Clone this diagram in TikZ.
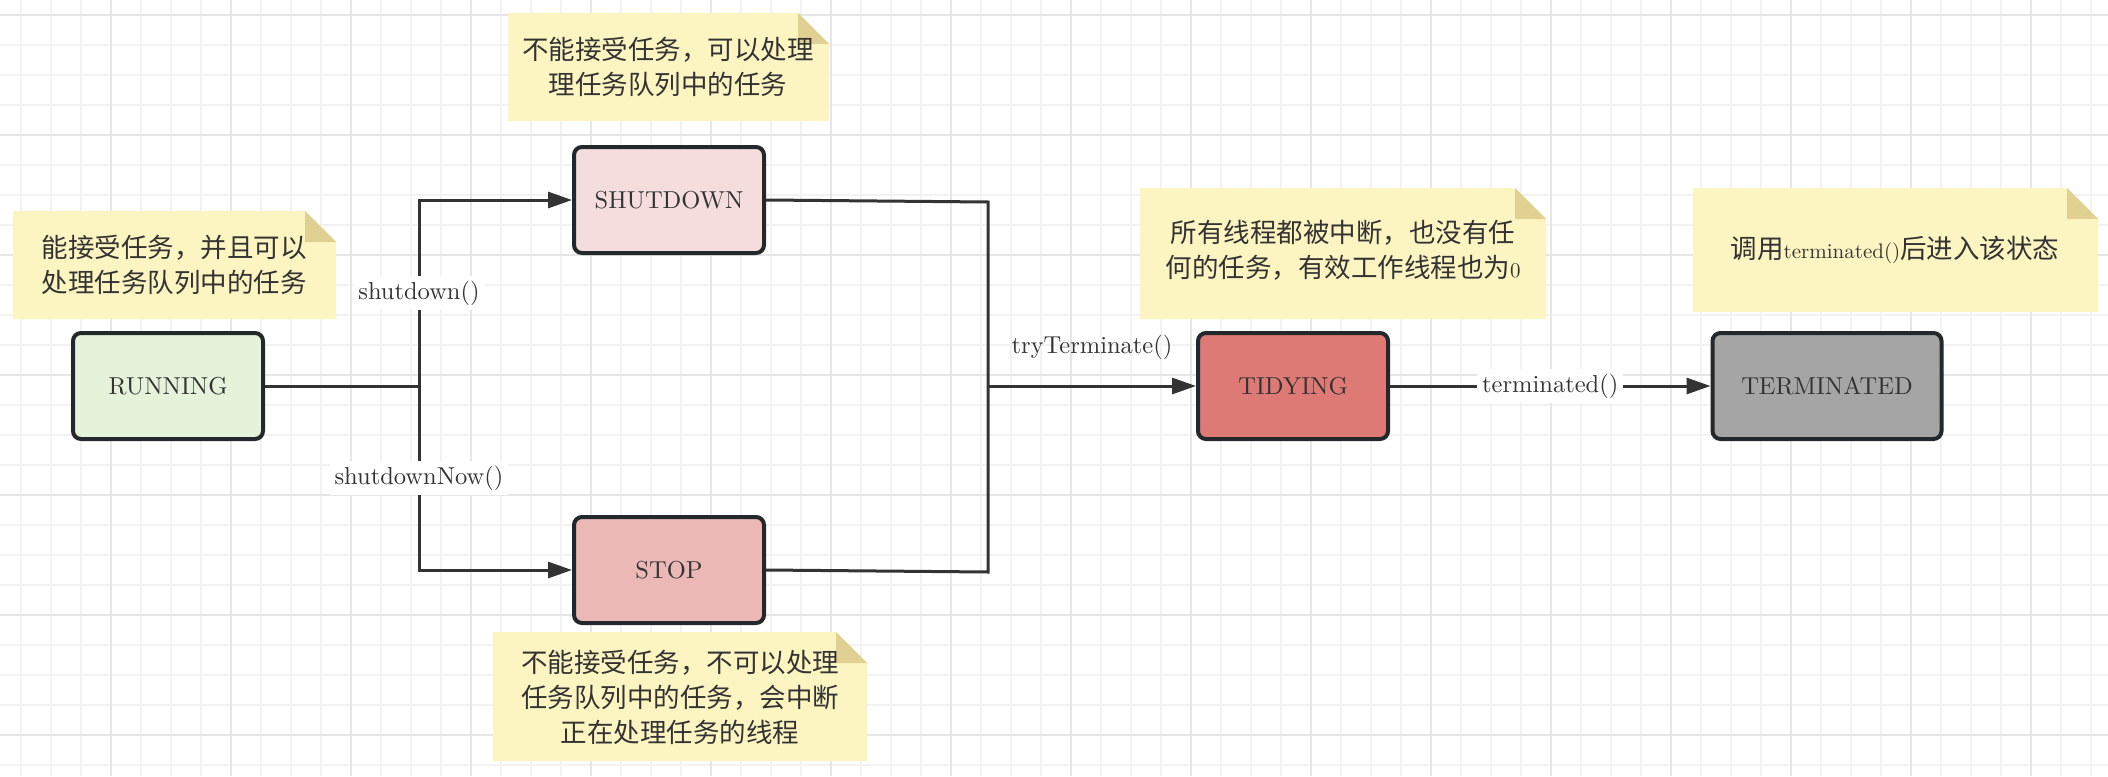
\documentclass[tikz,border=0pt]{standalone}
\usepackage{fontspec}
\setmainfont{lmroman10-regular.otf}
\newfontfamily\cjk{Noto Sans CJK SC}
\usetikzlibrary{arrows.meta,calc}
\definecolor{textc}{HTML}{333333}
\definecolor{boxborder}{HTML}{23282D}
\definecolor{edgec}{HTML}{333333}
\definecolor{notefill}{HTML}{FDF5C1}
\definecolor{notefold}{HTML}{E0D092}
\definecolor{runfill}{HTML}{E6F3DB}
\definecolor{shutfill}{HTML}{F5DDDD}
\definecolor{stopfill}{HTML}{EBB8B6}
\definecolor{tidyfill}{HTML}{DE7A76}
\definecolor{termfill}{HTML}{A5A5A5}
\definecolor{gridminor}{HTML}{F2F2F2}
\definecolor{gridmajor}{HTML}{E6E6E6}
\newcommand\notebg[4]{%
  \fill[notefill] (#1,#2) -- (#3-31,#2) -- (#3,#2+31) -- (#3,#4) -- (#1,#4) -- cycle;
  \fill[notefold] (#3-31,#2) -- (#3-31,#2+31) -- (#3,#2+31) -- cycle;}
\newcommand\lat[1]{{\rmfamily\fontsize{21}{35}\selectfont #1}}
\begin{document}
\begin{tikzpicture}[x=1pt,y=-1pt,
  statebox/.style={draw=boxborder, line width=4pt, rounded corners=8pt,
    minimum width=190pt, minimum height=106pt, text=textc,
    font=\fontsize{24.5}{28}\selectfont},
  notetext/.style={align=center, text=textc, inner sep=0pt,
    font=\cjk\fontsize{26.5}{35}\selectfont},
  edge/.style={draw=edgec, line width=3pt},
  arr/.style={-{Triangle[length=24pt,width=16pt]}},
  lbl/.style={fill=white, text=textc, inner xsep=5pt, inner ysep=5pt,
    font=\fontsize{24.5}{28}\selectfont}]
\useasboundingbox (0,0) rectangle (2108,776);
\fill[white] (0,0) rectangle (2108,776);
% grid
\foreach \x in {21,51,...,2108} \draw[gridminor, line width=1.6pt] (\x,0) -- (\x,776);
\foreach \y in {15,45,...,776} \draw[gridminor, line width=1.6pt] (0,\y) -- (2108,\y);
\foreach \x in {111,231,...,2108} \draw[gridmajor, line width=1.8pt] (\x,0) -- (\x,776);
\foreach \y in {15,135,...,776} \draw[gridmajor, line width=1.8pt] (0,\y) -- (2108,\y);
% notes
\notebg{13}{211}{336}{319}
\node[notetext] (note1) at (174,265) {能接受任务，并且可以\\处理任务队列中的任务};
\notebg{508}{13}{829}{121}
\node[notetext] (note2) at (668,67) {不能接受任务，可以处理\\理任务队列中的任务};
\notebg{493}{632}{867}{761}
\node[notetext] (note3) at (680,697) {不能接受任务，不可以处理\\任务队列中的任务，会中断\\正在处理任务的线程};
\notebg{1140}{188}{1546}{319}
\node[notetext] (note4) at (1343,250) {所有线程都被中断，也没有任\\何的任务，有效工作线程也为\lat{0}};
\notebg{1693}{188}{2098}{312}
\node[notetext] (note5) at (1895,250) {调用\lat{terminated()}后进入该状态};
% states
\node[statebox, fill=runfill] (running) at (168,386) {RUNNING};
\node[statebox, fill=shutfill] (shutdown) at (669,200) {SHUTDOWN};
\node[statebox, fill=stopfill] (stop) at (669,570) {STOP};
\node[statebox, fill=tidyfill] (tidying) at (1293,386) {TIDYING};
\node[statebox, fill=termfill, minimum width=229pt] (terminated) at (1827,386) {TERMINATED};
% connectors
\coordinate (j1) at (419,386);
\coordinate (j2t) at (988,202);
\coordinate (j2m) at (988,386);
\coordinate (j2b) at (988,572);
\draw[edge] (running.east) -- (j1);
\draw[edge, arr] (j1) |- (shutdown.west) node[pos=0.25, lbl] {shutdown()};
\draw[edge, arr] (j1) |- (stop.west) node[pos=0.25, lbl] {shutdownNow()};
\draw[edge] (shutdown.east) -- (j2t) -- (j2b) -- (stop.east);
\draw[edge, arr] (j2m) -- (tidying.west) node[midway, yshift=39pt, text=textc, font=\fontsize{24.5}{28}\selectfont] {tryTerminate()};
\draw[edge, arr] (tidying.east) -- (terminated.west) node[midway, lbl] {terminated()};
\end{tikzpicture}
\end{document}
